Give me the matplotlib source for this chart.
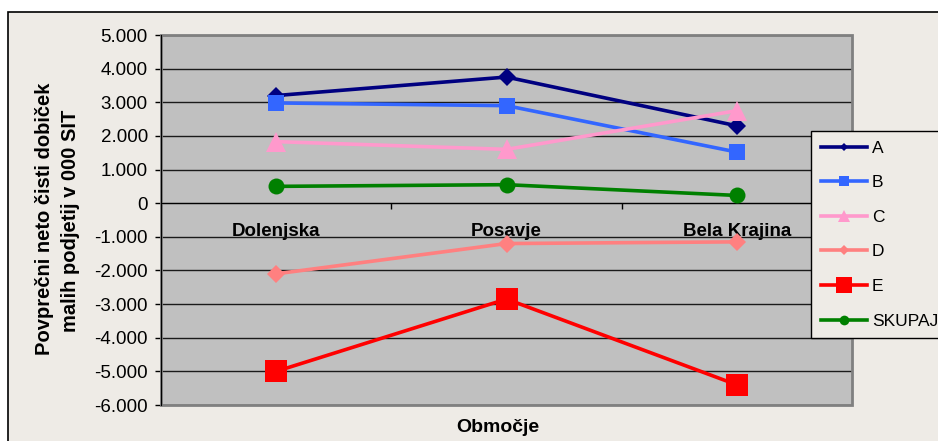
import matplotlib
matplotlib.use("Agg")
import matplotlib.pyplot as plt
import matplotlib.patches as patches
from matplotlib.lines import Line2D
from matplotlib.ticker import FixedLocator, FuncFormatter, MultipleLocator

plt.rcParams['font.family'] = ['Liberation Sans', 'DejaVu Sans']

# data
regions = ["Dolenjska", "Posavje", "Bela Krajina"]
series_names = ["A", "B", "C", "D", "E", "SKUPAJ"]
a_vals = [3200, 3750, 2300]
b_vals = [2980, 2900, 1520]
c_vals = [1830, 1600, 2750]
d_vals = [-2100, -1200, -1150]
e_vals = [-5000, -2850, -5400]
skupaj_vals = [500, 550, 230]
ylabel_lines = ["Povprečni neto čisti dobiček", "malih podjetij v 000 SIT"]
xlabel = "Območje"

# style per series: colour, marker, size on chart, size in legend
styles = [
    ("#000080", "D", 8.7, 4.2),
    ("#3366FF", "s", 11.5, 7.5),
    ("#FF99CC", "^", 13.7, 8.5),
    ("#FF8080", "D", 8.7, 5.2),
    ("#FF0000", "s", 16.5, 11.5),
    ("#008000", "o", 11.5, 7.0),
]
all_vals = [a_vals, b_vals, c_vals, d_vals, e_vals, skupaj_vals]

W, H = 938, 441
fig = plt.figure(figsize=(W / 100, H / 100), dpi=100, facecolor="white")

# chart area panel
fig.patches.append(patches.Rectangle((8 / W, -0.05), 1.2, 1 - 12 / H + 0.05,
                                     transform=fig.transFigure, facecolor="#EEEBE6",
                                     edgecolor="black", linewidth=1.2, zorder=-10))

ax = fig.add_axes([161 / W, 1 - 405 / H, (852 - 161) / W, (405 - 35) / H])
ax.set_facecolor("#C0C0C0")

x = [i + 0.5 for i in range(len(regions))]
for vals, (col, mk, ms, _) in zip(all_vals, styles):
    ax.plot(x, vals, color=col, lw=2.6, marker=mk, markersize=ms,
            markeredgewidth=0, zorder=3, clip_on=False)

ax.set_xlim(0, 3)
ax.set_ylim(-6000, 5000)
ax.yaxis.set_major_locator(MultipleLocator(1000))
ax.yaxis.set_major_formatter(FuncFormatter(lambda v, p: f"{int(v):,}".replace(",", ".")))
ax.grid(axis="y", color="#1a1a1a", lw=1.0, zorder=1)
ax.set_axisbelow(True)

# category axis crosses at zero
for s in ["top", "right"]:
    ax.spines[s].set_visible(False)
ax.spines["bottom"].set_position(("data", 0))
ax.spines["bottom"].set_color("black")
ax.spines["left"].set_color("black")
ax.add_patch(patches.Rectangle((0, 0), 1, 1, transform=ax.transAxes, fill=False,
                               edgecolor="#808080", lw=2, zorder=2, clip_on=False))

ax.xaxis.set_major_locator(FixedLocator([0, 1, 2, 3]))
ax.xaxis.set_major_formatter(FuncFormatter(lambda v, p: ""))
ax.xaxis.set_minor_locator(FixedLocator(x))
ax.set_xticklabels(regions, minor=True, fontsize=13.5, fontweight="bold")
ax.tick_params(axis="x", which="major", direction="out", length=4, width=1)
ax.tick_params(axis="x", which="minor", length=0, pad=14)
ax.tick_params(axis="y", direction="out", length=4.5, width=1, pad=5, labelsize=13.5)

# axis titles
fig.text(45 / W, 1 - 219 / H, ylabel_lines[0], rotation=90, ha="center", va="center",
         fontsize=14.5, fontweight="bold")
fig.text(71 / W, 1 - 221 / H, ylabel_lines[1], rotation=90, ha="center", va="center",
         fontsize=14.5, fontweight="bold")
fig.text(498 / W, 1 - 428 / H, xlabel, ha="center", va="center",
         fontsize=14, fontweight="bold")

handles = [Line2D([], [], color=col, lw=2.6, marker=mk, markersize=lms, markeredgewidth=0)
           for col, mk, _, lms in styles]
leg = fig.legend(handles, series_names, loc="upper left",
                 bbox_to_anchor=(811 / W, 1 - 131 / H), borderaxespad=0,
                 fontsize=12.5, frameon=True, fancybox=False, facecolor="#EEEBE6",
                 edgecolor="black", framealpha=1, handlelength=2.7,
                 handletextpad=0.25, labelspacing=1.12, borderpad=0.55)
leg.get_frame().set_linewidth(1.0)

fig.savefig("out.png", dpi=100, facecolor=fig.get_facecolor())
